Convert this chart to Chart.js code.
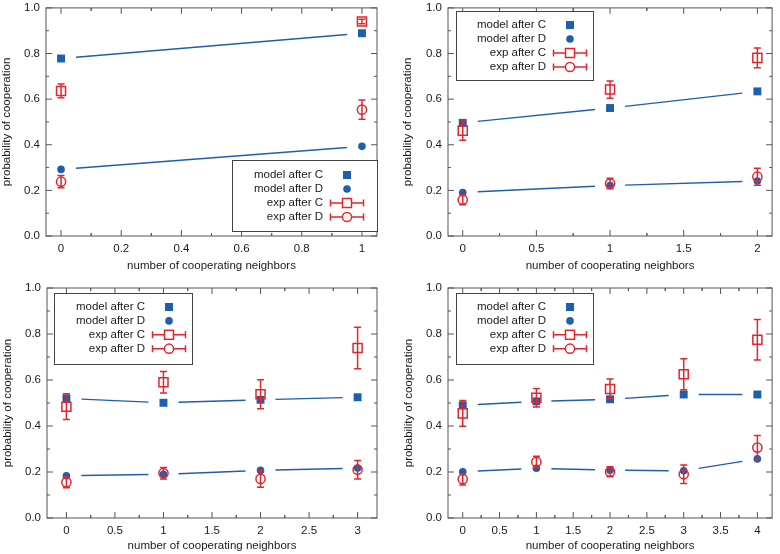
<!DOCTYPE html>
<html>
<head>
<meta charset="utf-8">
<script src="https://cdn.jsdelivr.net/npm/chart.js@4.4.1/dist/chart.umd.min.js"></script>
<style>
  html, body { margin: 0; padding: 0; background: #fff; }
  #wrap { position: relative; width: 780px; height: 554px; }
  .panel { position: absolute; width: 390px; height: 277px; }
</style>
</head>
<body>
<div id="wrap">
  <div class="panel" style="left:0;top:0"><canvas id="c1" width="390" height="277"></canvas></div>
  <div class="panel" style="left:390px;top:0"><canvas id="c2" width="390" height="277"></canvas></div>
  <div class="panel" style="left:0;top:277px"><canvas id="c3" width="390" height="277"></canvas></div>
  <div class="panel" style="left:390px;top:277px"><canvas id="c4" width="390" height="277"></canvas></div>
</div>
<script>
// values, one group per panel

// panel 1 - one neighbor
const neighbors1 = [0, 1];
const modelC1 = [0.778, 0.889];
const modelD1 = [0.292, 0.393];
const expC1 = [0.636, 0.940];
const expCErr1 = [0.030, 0.010];
const expD1 = [0.238, 0.554];
const expDErr1 = [0.027, 0.042];

// panel 2 - two neighbors
const neighbors2 = [0, 1, 2];
const modelC2 = [0.496, 0.561, 0.634];
const modelD2 = [0.191, 0.221, 0.241];
const expC2 = [0.462, 0.642, 0.781];
const expCErr2 = [0.042, 0.038, 0.043];
const expD2 = [0.159, 0.230, 0.260];
const expDErr2 = [0.022, 0.023, 0.037];

// panel 3 - three neighbors
const neighbors3 = [0, 1, 2, 3];
const modelC3 = [0.520, 0.501, 0.514, 0.525];
const modelD3 = [0.184, 0.190, 0.207, 0.217];
const expC3 = [0.484, 0.590, 0.538, 0.739];
const expCErr3 = [0.056, 0.047, 0.063, 0.090];
const expD3 = [0.155, 0.195, 0.170, 0.210];
const expDErr3 = [0.023, 0.025, 0.036, 0.040];

// panel 4 - four neighbors
const neighbors4 = [0, 1, 2, 3, 4];
const modelC4 = [0.490, 0.507, 0.516, 0.537, 0.537];
const modelD4 = [0.201, 0.216, 0.208, 0.205, 0.257];
const expC4 = [0.455, 0.523, 0.561, 0.625, 0.775];
const expCErr4 = [0.056, 0.040, 0.043, 0.067, 0.088];
const expD4 = [0.169, 0.244, 0.201, 0.190, 0.306];
const expDErr4 = [0.025, 0.025, 0.022, 0.040, 0.053];

const yTicks = [0, 0.2, 0.4, 0.6, 0.8, 1.0];
const seriesLabels = ['model after C', 'model after D', 'exp after C', 'exp after D'];

const BLUE = '#1c5fab';
const RED = '#e3262d';
const FRAME = '#555';
const FONT = '"Liberation Sans", Arial, Helvetica, sans-serif';
const FSIZE = 11.5;

Chart.defaults.font.family = FONT;
Chart.defaults.font.size = FSIZE;
Chart.defaults.color = '#1a1a1a';

// markers for the key, same look as the plotted points
function marker(ctx, style, x, y) {
  ctx.save();
  ctx.lineWidth = 1.5;
  if (style === 'mC') {
    ctx.fillStyle = BLUE;
    ctx.fillRect(x - 4, y - 4, 8, 8);
  } else if (style === 'mD') {
    ctx.fillStyle = BLUE;
    ctx.beginPath(); ctx.arc(x, y, 3.8, 0, Math.PI * 2); ctx.fill();
  } else if (style === 'eC') {
    ctx.strokeStyle = RED;
    ctx.strokeRect(x - 4.5, y - 4.5, 9, 9);
  } else {
    ctx.strokeStyle = RED;
    ctx.beginPath(); ctx.arc(x, y, 4.6, 0, Math.PI * 2); ctx.stroke();
  }
  ctx.restore();
}

// gnuplot look: gapped model lines, error bars, inward ticks, boxed key
const gnuplotLook = {
  id: 'gnuplotLook',
  beforeDatasetsDraw(chart) {
    const ctx = chart.ctx;
    const { x, y } = chart.scales;
    ctx.save();
    ctx.strokeStyle = BLUE;
    ctx.lineWidth = 1.4;
    chart.data.datasets.forEach(ds => {
      if (!ds.modelLine) return;
      for (let i = 0; i < ds.data.length - 1; i++) {
        const x0 = x.getPixelForValue(ds.data[i].x), y0 = y.getPixelForValue(ds.data[i].y);
        const x1 = x.getPixelForValue(ds.data[i + 1].x), y1 = y.getPixelForValue(ds.data[i + 1].y);
        const t = 15 / (x1 - x0);
        ctx.beginPath();
        ctx.moveTo(x0 + (x1 - x0) * t, y0 + (y1 - y0) * t);
        ctx.lineTo(x1 - (x1 - x0) * t, y1 - (y1 - y0) * t);
        ctx.stroke();
      }
    });
    ctx.restore();
  },
  beforeDatasetDraw(chart, args) {
    const ds = chart.data.datasets[args.index];
    if (!ds.errors) return;
    const ctx = chart.ctx;
    const y = chart.scales.y;
    ctx.save();
    ctx.strokeStyle = RED;
    ctx.lineWidth = 1.5;
    args.meta.data.forEach((pt, i) => {
      const hi = y.getPixelForValue(ds.data[i].y + ds.errors[i]);
      const lo = y.getPixelForValue(ds.data[i].y - ds.errors[i]);
      ctx.beginPath();
      ctx.moveTo(pt.x, hi); ctx.lineTo(pt.x, lo);
      ctx.moveTo(pt.x - 3.5, hi); ctx.lineTo(pt.x + 3.5, hi);
      ctx.moveTo(pt.x - 3.5, lo); ctx.lineTo(pt.x + 3.5, lo);
      ctx.stroke();
    });
    ctx.restore();
  },
  afterDatasetsDraw(chart, args, opts) {
    const ctx = chart.ctx;
    const { left, right, top, bottom } = chart.chartArea;
    const { x, y } = chart.scales;
    ctx.save();
    ctx.strokeStyle = FRAME;
    ctx.lineWidth = 1;
    ctx.strokeRect(left, top, right - left, bottom - top);
    ctx.beginPath();
    const xStep = opts.xStep;
    x.ticks.forEach(t => {
      const px = x.getPixelForValue(t.value);
      ctx.moveTo(px, bottom); ctx.lineTo(px, bottom - 6);
      ctx.moveTo(px, top); ctx.lineTo(px, top + 6);
      [t.value - xStep / 2, t.value + xStep / 2].forEach(m => {
        if (m <= x.min || m >= x.max) return;
        const mx = x.getPixelForValue(m);
        ctx.moveTo(mx, bottom); ctx.lineTo(mx, bottom - 3);
        ctx.moveTo(mx, top); ctx.lineTo(mx, top + 3);
      });
    });
    y.ticks.forEach(t => {
      const py = y.getPixelForValue(t.value);
      ctx.moveTo(left, py); ctx.lineTo(left + 6, py);
      ctx.moveTo(right, py); ctx.lineTo(right - 6, py);
      const m = t.value + 0.1;
      if (m < y.max) {
        const my = y.getPixelForValue(m);
        ctx.moveTo(left, my); ctx.lineTo(left + 3, my);
        ctx.moveTo(right, my); ctx.lineTo(right - 3, my);
      }
    });
    ctx.stroke();

    // key
    const k = opts.key;
    ctx.fillStyle = '#fff';
    ctx.fillRect(k.x, k.y, k.w, k.h);
    ctx.strokeStyle = '#444';
    ctx.strokeRect(k.x + 0.5, k.y + 0.5, k.w, k.h);
    ctx.font = FSIZE + 'px ' + FONT;
    ctx.fillStyle = '#1a1a1a';
    ctx.textAlign = 'right';
    ctx.textBaseline = 'middle';
    const styles = ['mC', 'mD', 'eC', 'eD'];
    seriesLabels.forEach((lab, i) => {
      const ry = k.row0 + i * k.gap;
      ctx.fillText(lab, k.textRight, ry);
      if (i >= 2) {
        ctx.save();
        ctx.strokeStyle = RED;
        ctx.lineWidth = 1.5;
        ctx.beginPath();
        ctx.moveTo(k.mark - 16.5, ry); ctx.lineTo(k.mark + 16.5, ry);
        ctx.moveTo(k.mark - 16.5, ry - 3.5); ctx.lineTo(k.mark - 16.5, ry + 3.5);
        ctx.moveTo(k.mark + 16.5, ry - 3.5); ctx.lineTo(k.mark + 16.5, ry + 3.5);
        ctx.stroke();
        ctx.restore();
        ctx.fillStyle = '#fff';
        if (i === 2) ctx.fillRect(k.mark - 4.5, ry - 4.5, 9, 9);
        else { ctx.beginPath(); ctx.arc(k.mark, ry, 4.6, 0, Math.PI * 2); ctx.fill(); }
        ctx.fillStyle = '#1a1a1a';
      }
      marker(ctx, styles[i], k.mark, ry);
    });
    ctx.restore();
  }
};

const pts = (xs, ys) => xs.map((v, i) => ({ x: v, y: ys[i] }));

function markerDataset(label, data, style, extra) {
  const red = style === 'eC' || style === 'eD';
  return Object.assign({
    label: label,
    data: data,
    showLine: false,
    pointStyle: (style === 'mC' || style === 'eC') ? 'rect' : 'circle',
    pointRadius: style === 'mC' ? 5.6 : style === 'mD' ? 3.8 : style === 'eC' ? 6.4 : 4.6,
    pointBorderWidth: red ? 1.5 : 0,
    borderColor: red ? RED : BLUE,
    pointBorderColor: red ? RED : BLUE,
    pointBackgroundColor: red ? 'rgba(255,255,255,0)' : BLUE,
    backgroundColor: red ? 'rgba(255,255,255,0)' : BLUE
  }, extra || {});
}

function makePanel(id, xs, mC, mD, eC, eCErr, eD, eDErr, lay) {
  new Chart(document.getElementById(id), {
    type: 'scatter',
    data: {
      datasets: [
        markerDataset(seriesLabels[3], pts(xs, eD), 'eD', { errors: eDErr }),
        markerDataset(seriesLabels[2], pts(xs, eC), 'eC', { errors: eCErr }),
        markerDataset(seriesLabels[1], pts(xs, mD), 'mD', { modelLine: true }),
        markerDataset(seriesLabels[0], pts(xs, mC), 'mC', { modelLine: true })
      ]
    },
    options: {
      responsive: false,
      animation: false,
      events: [],
      layout: { padding: { top: lay.T, right: 390 - lay.R, left: 0, bottom: 0 } },
      plugins: {
        legend: { display: false },
        tooltip: { enabled: false },
        gnuplotLook: { xStep: lay.xStep, key: lay.key }
      },
      scales: {
        x: {
          type: 'linear',
          min: lay.xMin,
          max: lay.xMax,
          grid: { display: false, drawTicks: false },
          border: { display: false },
          ticks: {
            stepSize: lay.xStep, includeBounds: false, padding: 6, maxRotation: 0, autoSkip: false,
            callback: v => String(Math.round(v * 100) / 100)
          },
          title: {
            display: true,
            text: 'number of cooperating neighbors',
            font: { size: FSIZE, lineHeight: 1.2 },
            padding: { top: 0, bottom: 277 - lay.xTitleY - FSIZE * 0.6 }
          },
          afterFit: s => { s.height = 277 - lay.B; s.paddingLeft = 0; s.paddingRight = 0; }
        },
        y: {
          min: 0,
          max: 1,
          grid: { display: false, drawTicks: false },
          border: { display: false },
          afterBuildTicks: s => { s.ticks = yTicks.map(v => ({ value: v })); },
          ticks: { padding: 6, callback: v => v.toFixed(1) },
          title: {
            display: true,
            text: 'probability of cooperation',
            font: { size: FSIZE, lineHeight: 1.2 },
            padding: { top: lay.yTitleX - FSIZE * 0.6, bottom: 0 }
          },
          afterFit: s => { s.width = lay.L; s.paddingTop = 0; s.paddingBottom = 0; }
        }
      }
    },
    plugins: [gnuplotLook]
  });
}

makePanel('c1', neighbors1, modelC1, modelD1, expC1, expCErr1, expD1, expDErr1, {
  xMin: -0.05, xMax: 1.05, xStep: 0.2, L: 46, T: 5, R: 377, B: 236, yTitleX: 7, xTitleY: 266,
  key: { x: 232, y: 160, w: 145, h: 71, textRight: 323, mark: 347, row0: 175, gap: 14 }
});
makePanel('c2', neighbors2, modelC2, modelD2, expC2, expCErr2, expD2, expDErr2, {
  xMin: -0.1, xMax: 2.1, xStep: 0.5, L: 58, T: 5, R: 389, B: 236, yTitleX: 18, xTitleY: 266,
  key: { x: 66, y: 11, w: 137, h: 69, textRight: 156, mark: 180, row0: 25, gap: 14 }
});
makePanel('c3', neighbors3, modelC3, modelD3, expC3, expCErr3, expD3, expDErr3, {
  xMin: -0.2, xMax: 3.2, xStep: 0.5, L: 47, T: 11, R: 377, B: 241, yTitleX: 8, xTitleY: 269,
  key: { x: 54, y: 16, w: 138, h: 71, textRight: 145, mark: 169, row0: 30, gap: 13.9 }
});
makePanel('c4', neighbors4, modelC4, modelD4, expC4, expCErr4, expD4, expDErr4, {
  xMin: -0.2, xMax: 4.2, xStep: 0.5, L: 58, T: 11, R: 389, B: 241, yTitleX: 19, xTitleY: 269,
  key: { x: 66, y: 16, w: 137, h: 71, textRight: 156, mark: 180, row0: 30, gap: 13.9 }
});
</script>
</body>
</html>
